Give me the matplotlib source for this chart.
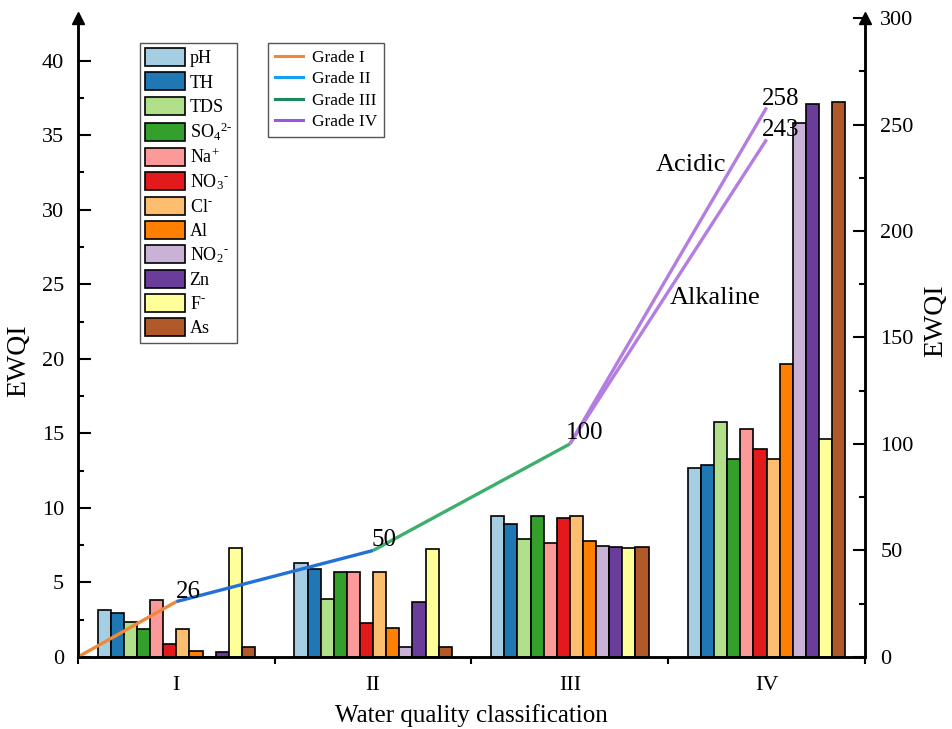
import matplotlib
matplotlib.use('Agg')
import matplotlib.pyplot as plt
import numpy as np
from matplotlib.lines import Line2D
from matplotlib.ticker import MultipleLocator, FixedLocator

plt.rcParams['font.family'] = ['Liberation Serif', 'DejaVu Serif']
plt.rcParams['mathtext.fontset'] = 'custom'
plt.rcParams['mathtext.rm'] = 'Liberation Serif'
plt.rcParams['mathtext.it'] = 'Liberation Serif:italic'
plt.rcParams['mathtext.bf'] = 'Liberation Serif:bold'

# ---------------- data ----------------
categories = ['I', 'II', 'III', 'IV']
param_labels = ['pH', 'TH', 'TDS', r'SO$_4$$^{\text{2-}}$', r'Na$^{\text{+}}$', r'NO$_3$$^{\text{-}}$',
                r'Cl$^{\text{-}}$', 'Al', r'NO$_2$$^{\text{-}}$', 'Zn', r'F$^{\text{-}}$', 'As']
pH = [3.15, 6.33, 9.48, 12.69]
TH = [2.97, 5.93, 8.90, 12.86]
TDS = [2.34, 3.90, 7.90, 15.79]
SO4 = [1.87, 5.70, 9.48, 13.31]
Na = [3.79, 5.70, 7.63, 15.27]
NO3 = [0.89, 2.27, 9.30, 13.96]
Cl = [1.87, 5.70, 9.48, 13.31]
Al = [0.38, 1.94, 7.80, 19.64]
NO2 = [0.0, 0.69, 7.43, 35.79]
Zn = [0.31, 3.68, 7.38, 37.08]
F = [7.33, 7.27, 7.29, 14.60]
As = [0.69, 0.69, 7.40, 37.25]
series = [pH, TH, TDS, SO4, Na, NO3, Cl, Al, NO2, Zn, F, As]

grade_start = 0
grade_points = [26, 50, 100]          # EWQI boundaries at I, II, III
grade4_acidic = 258
grade4_alkaline = 243
grade_labels = ['Grade I', 'Grade II', 'Grade III', 'Grade IV']

bar_colors = ['#A6CEE3', '#1F78B4', '#B2DF8A', '#33A02C', '#FB9A99', '#E31A1C',
              '#FDBF6F', '#FF7F00', '#CAB2D6', '#6A3D9A', '#FFFF99', '#B15928']
line_colors = ['#F0883A', '#2270D8', '#3DAE6C', '#B47EE0']
legend_line_colors = ['#F0883A', '#18A0F0', '#1B8A5A', '#9B55E6']

# ---------------- figure ----------------
fig = plt.figure(figsize=(9.52, 7.29), dpi=100)
ax = fig.add_axes([0.0819, 0.0988, 0.8267, 0.8765])
ax2 = ax.twinx()

x = np.arange(1, len(categories) + 1)
n = len(series)
w = 0.8 / n
bars = []
for j, (vals, c, lab) in enumerate(zip(series, bar_colors, param_labels)):
    b = ax.bar(x + (j - (n - 1) / 2) * w, vals, width=w, color=c,
               edgecolor='black', linewidth=1.2, label=lab, zorder=2)
    bars.append(b)

ax.set_xlim(0.5, 4.5)
ax.set_ylim(0, 300 / 7)
ax2.set_ylim(0, 300)

# lines on right axis
lw = 2.4
ax2.plot([0.5, 1], [grade_start, grade_points[0]], color=line_colors[0], lw=lw, solid_capstyle='butt')
ax2.plot([1, 2], [grade_points[0], grade_points[1]], color=line_colors[1], lw=lw, solid_capstyle='butt')
ax2.plot([2, 3], [grade_points[1], grade_points[2]], color=line_colors[2], lw=lw, solid_capstyle='butt')
ax2.plot([3, 4], [grade_points[2], grade4_acidic], color=line_colors[3], lw=lw, solid_capstyle='butt')
ax2.plot([3, 4], [grade_points[2], grade4_alkaline], color=line_colors[3], lw=lw, solid_capstyle='butt')

ann_fs = 18
ax2.text(1.0, grade_points[0] + 4.5, str(grade_points[0]), ha='left', va='center', fontsize=ann_fs)
ax2.text(1.99, grade_points[1] + 5, str(grade_points[1]), ha='left', va='center', fontsize=ann_fs)
ax2.text(2.98, grade_points[2] + 5, str(grade_points[2]), ha='left', va='center', fontsize=ann_fs)
ax2.text(3.975, grade4_acidic + 4, str(grade4_acidic), ha='left', va='center', fontsize=ann_fs)
ax2.text(3.975, grade4_alkaline + 4.5, str(grade4_alkaline), ha='left', va='center', fontsize=ann_fs)
ax2.text(3.615, 231, 'Acidic', ha='center', va='center', fontsize=19)
ax2.text(3.74, 168.5, 'Alkaline', ha='center', va='center', fontsize=19)

# spines
for a in (ax, ax2):
    a.spines['top'].set_visible(False)
    for s in ('left', 'right', 'bottom'):
        a.spines[s].set_linewidth(1.8)

# arrows at top of vertical axes
ax2.plot([0], [1.0], marker='^', markersize=9, color='black', transform=ax2.transAxes, clip_on=False)
ax2.plot([1], [1.0], marker='^', markersize=9, color='black', transform=ax2.transAxes, clip_on=False)

# ticks
tick_fs = 16
ax.set_yticks(np.arange(0, 41, 5))
ax.yaxis.set_minor_locator(MultipleLocator(2.5))
ax.tick_params(axis='y', which='major', direction='in', length=9, width=1.5, labelsize=tick_fs, pad=10)
ax.tick_params(axis='y', which='minor', direction='in', length=4.5, width=1.5)

ax2.set_yticks(np.arange(0, 301, 50))
ax2.yaxis.set_minor_locator(MultipleLocator(25))
ax2.tick_params(axis='y', which='major', direction='in', length=9, width=1.5, labelsize=tick_fs, pad=11)
ax2.tick_params(axis='y', which='minor', direction='in', length=4.5, width=1.5)

ax.set_xticks([0.5, 1.5, 2.5, 3.5, 4.5])
ax.set_xticklabels([])
ax.xaxis.set_minor_locator(FixedLocator(x))
ax.xaxis.set_minor_formatter(plt.FixedFormatter(categories))
ax.tick_params(axis='x', which='major', direction='out', length=5, width=1.5)
ax.tick_params(axis='x', which='minor', direction='in', length=0, labelsize=tick_fs, pad=14)

ax.set_xlabel('Water quality classification', fontsize=18, labelpad=6)
ax.set_ylabel('EWQI', fontsize=20)
ax2.set_ylabel('EWQI', fontsize=20)
ax.yaxis.set_label_coords(-0.059, 0.463)
ax2.yaxis.set_label_coords(1.074, 0.526)

# legends
leg1 = ax2.legend(handles=bars, labels=param_labels, loc='upper left',
                  bbox_to_anchor=(0.0788, 0.961), fontsize=13, frameon=True,
                  fancybox=False, edgecolor='#555555', framealpha=1,
                  handlelength=2.2, handleheight=1.15, labelspacing=0.28,
                  handletextpad=0.25, borderpad=0.3, borderaxespad=0)
leg1.get_frame().set_linewidth(1.0)
ax2.add_artist(leg1)

line_handles = [Line2D([0], [0], color=c, lw=2.2) for c in legend_line_colors]
leg2 = ax2.legend(handles=line_handles, labels=grade_labels, loc='upper left',
                  bbox_to_anchor=(0.2414, 0.961), fontsize=12.5, frameon=True,
                  fancybox=False, edgecolor='#555555', framealpha=1,
                  handlelength=1.6, labelspacing=0.3, handletextpad=0.55,
                  borderpad=0.4, borderaxespad=0)
leg2.get_frame().set_linewidth(1.0)

fig.savefig('out.png', dpi=100)
